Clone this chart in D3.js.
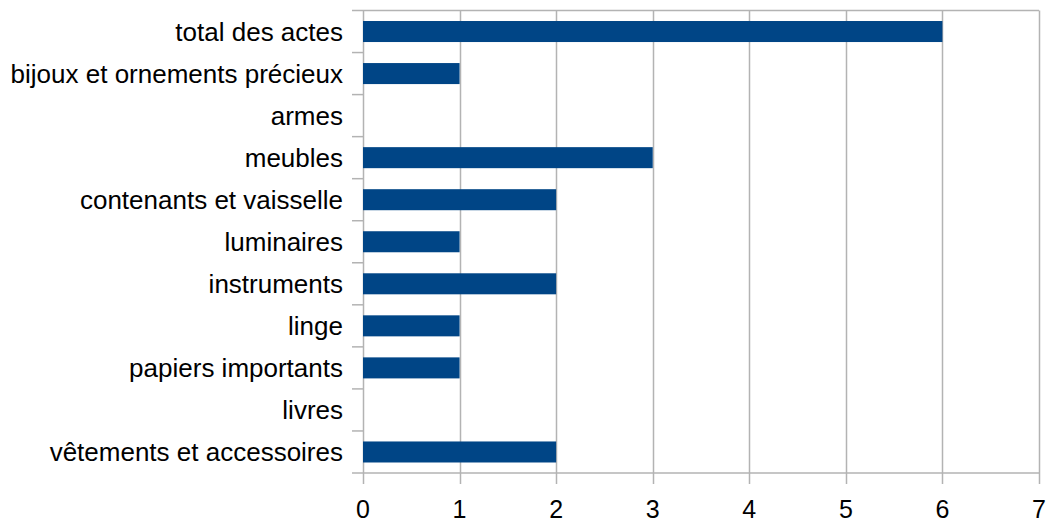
<!DOCTYPE html>
<html><head><meta charset="utf-8">
<script src="https://cdn.jsdelivr.net/npm/d3@7"></script>
<style>body{margin:0;background:#fff}svg{display:block}text{font-family:"Liberation Sans",Arial,sans-serif;fill:#000}</style>
</head><body><svg id="c" width="1054" height="521"></svg>
<script>
const categories = ["total des actes","bijoux et ornements précieux","armes","meubles","contenants et vaisselle","luminaires","instruments","linge","papiers importants","livres","vêtements et accessoires"];
const values = [6,1,0,3,2,1,2,1,1,0,2];
const xTicks = [0,1,2,3,4,5,6,7];

const svg = d3.select("#c");
const L=363, R=1039, T=10.5, B=473;
const x = d3.scaleLinear().domain([0,7]).range([L,R]);
const y = d3.scaleBand().domain(categories).range([T,B]).paddingInner(0).paddingOuter(0);
const grid="#b3b3b3";
// vertical grid
svg.append("g").selectAll("line").data(xTicks).join("line")
 .attr("x1",d=>Math.round(x(d))+0.5).attr("x2",d=>Math.round(x(d))+0.5)
 .attr("y1",T).attr("y2",B+11).attr("stroke",grid).attr("stroke-width",1.5);
// top and bottom horizontal
svg.append("line").attr("x1",L-11).attr("x2",R).attr("y1",T).attr("y2",T).attr("stroke",grid).attr("stroke-width",1.5);
svg.append("line").attr("x1",L-11).attr("x2",R).attr("y1",B).attr("y2",B).attr("stroke",grid).attr("stroke-width",1.5);
// category ticks
svg.append("g").selectAll("line").data(categories.slice(1)).join("line")
 .attr("x1",L-11).attr("x2",L).attr("y1",d=>y(d)).attr("y2",d=>y(d)).attr("stroke",grid).attr("stroke-width",1.5);
// bars
svg.append("g").selectAll("rect").data(categories).join("rect")
 .attr("x",x(0)).attr("y",d=>y(d)+y.bandwidth()*0.25)
 .attr("width",(d,i)=>x(values[i])-x(0)).attr("height",y.bandwidth()*0.5)
 .attr("fill","#004586");
// category labels
svg.append("g").selectAll("text").data(categories).join("text")
 .attr("x",343).attr("y",d=>y(d)+y.bandwidth()/2+9.5)
 .attr("text-anchor","end").attr("font-size",26).text(d=>d);
// x labels
svg.append("g").selectAll("text").data(xTicks).join("text")
 .attr("x",d=>x(d)).attr("y",517.5).attr("text-anchor","middle").attr("font-size",25).text(d=>d);
</script></body></html>
